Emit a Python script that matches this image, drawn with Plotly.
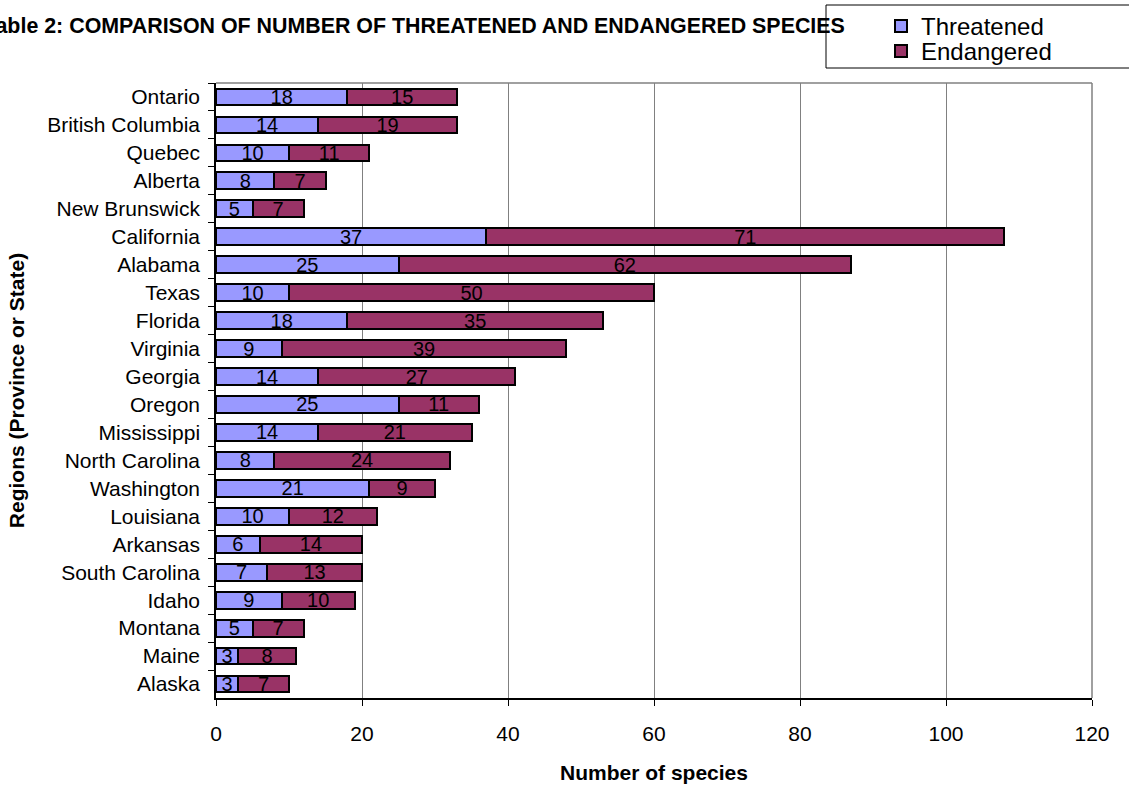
import plotly.graph_objects as go

regions = ["Ontario", "British Columbia", "Quebec", "Alberta", "New Brunswick",
           "California", "Alabama", "Texas", "Florida", "Virginia", "Georgia",
           "Oregon", "Mississippi", "North Carolina", "Washington", "Louisiana",
           "Arkansas", "South Carolina", "Idaho", "Montana", "Maine", "Alaska"]
threatened = [18, 14, 10, 8, 5, 37, 25, 10, 18, 9, 14, 25, 14, 8, 21, 10, 6, 7, 9, 5, 3, 3]
endangered = [15, 19, 11, 7, 7, 71, 62, 50, 35, 39, 27, 11, 21, 24, 9, 12, 14, 13, 10, 7, 8, 7]
x_ticks = [0, 20, 40, 60, 80, 100, 120]

FONT = "Liberation Sans, Arial, sans-serif"

fig = go.Figure()
fig.add_trace(go.Bar(
    y=regions, x=threatened, name="Threatened", orientation="h", legend="legend",
    marker=dict(color="#9999FF", line=dict(color="black", width=2)),
    text=threatened, textposition="inside", insidetextanchor="middle", textangle=0,
    textfont=dict(color="black", size=20, family=FONT),
))
fig.add_trace(go.Bar(
    y=regions, x=endangered, name="Endangered", orientation="h", legend="legend2",
    marker=dict(color="#993366", line=dict(color="black", width=2)),
    text=endangered, textposition="inside", insidetextanchor="middle", textangle=0,
    textfont=dict(color="black", size=20, family=FONT),
))

L, R, T, B = 216, 37, 83, 91
W, H = 1129, 789
pw, ph = W - L - R, H - T - B

def px_x(px):
    return (px - L) / pw

def px_y(py):
    return (H - B - py) / ph

leg_common = dict(
    xanchor="left", yanchor="top", font=dict(size=24, family=FONT),
    bgcolor="rgba(0,0,0,0)", borderwidth=0, itemwidth=30,
)

fig.update_layout(
    width=W, height=H,
    margin=dict(l=L, r=R, t=T, b=B, autoexpand=False),
    barmode="stack", bargap=0.4,
    plot_bgcolor="white", paper_bgcolor="white",
    font=dict(family=FONT, color="black", size=21),
    uniformtext=dict(mode="show", minsize=20),
    showlegend=True,
    legend=dict(x=px_x(881), y=px_y(4), **leg_common),
    legend2=dict(x=px_x(881), y=px_y(29), **leg_common),
    xaxis=dict(
        range=[0, 120], tickvals=x_ticks, ticks="outside", ticklen=6, tickcolor="black",
        showline=True, linecolor="black", linewidth=1.5,
        showgrid=True, gridcolor="#808080", gridwidth=1, zeroline=False,
        ticklabelstandoff=10, tickfont=dict(size=21),
        title=dict(text="<b>Number of species</b>", font=dict(size=21), standoff=21),
    ),
    yaxis=dict(
        autorange="reversed", ticks="outside", ticklen=6, tickcolor="black",
        tickson="boundaries", showline=True, linecolor="black", linewidth=1.5,
        showgrid=False, ticklabelstandoff=10, tickfont=dict(size=21),
        title=dict(text="<b>Regions (Province or State)</b>", font=dict(size=21), standoff=17),
    ),
    shapes=[
        dict(type="line", xref="paper", yref="paper", x0=0, x1=1, y0=1, y1=1,
             line=dict(color="#808080", width=1.5)),
        dict(type="line", xref="paper", yref="paper", x0=1, x1=1, y0=0, y1=1,
             line=dict(color="#808080", width=1.5)),
        dict(type="rect", xref="paper", yref="paper",
             x0=px_x(826), x1=px_x(1140), y0=px_y(68), y1=px_y(5),
             line=dict(color="black", width=1), fillcolor="rgba(0,0,0,0)"),
    ],
    annotations=[
        dict(text="<b>Table 2: COMPARISON OF NUMBER OF THREATENED AND ENDANGERED SPECIES</b>",
             xref="paper", yref="paper", x=px_x(847), y=px_y(26),
             xanchor="right", yanchor="middle", showarrow=False,
             font=dict(size=21.4, family=FONT, color="black")),
    ],
)

fig.write_html("out.html")
